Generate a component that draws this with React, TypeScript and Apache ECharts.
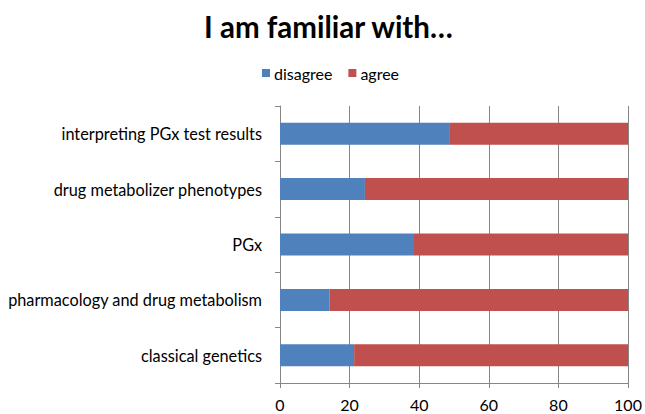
import React, { useEffect, useRef } from "react";
import * as echarts from "echarts";

const categories = [
  "classical genetics",
  "pharmacology and drug metabolism",
  "PGx",
  "drug metabolizer phenotypes",
  "interpreting PGx test results",
];
const disagree = [21.3, 14.2, 38.5, 24.4, 48.6];
const agree = [78.7, 85.8, 61.5, 75.6, 51.4];
const xTicks = [0, 20, 40, 60, 80, 100];

const FONT = "Lato, 'Open Sans', sans-serif";

export default function App() {
  const ref = useRef<HTMLDivElement>(null);
  useEffect(() => {
    if (!ref.current) return;
    const chart = echarts.init(ref.current, null, { renderer: "svg" });
    chart.setOption({
      animation: false,
      backgroundColor: "#ffffff",
      title: {
        text: "I am familiar with…",
        left: 199,
        top: 6,
        textStyle: { fontFamily: FONT, fontWeight: "bold", fontSize: 29.5, color: "#000" },
      },
      legend: {
        top: 60,
        left: 257,
        itemWidth: 8,
        itemHeight: 8,
        itemGap: 16,
        icon: "rect",
        textStyle: { fontFamily: FONT, fontSize: 16, color: "#000", padding: [0, 0, 0, -1] },
        data: ["disagree", "agree"],
      },
      grid: { left: 280, right: 17, top: 106, bottom: 31, containLabel: false },
      xAxis: {
        type: "value",
        min: xTicks[0],
        max: xTicks[xTicks.length - 1],
        interval: 20,
        axisLine: { show: true, lineStyle: { color: "#868686" } },
        axisTick: { show: true, length: 5, lineStyle: { color: "#868686" } },
        splitLine: { show: true, lineStyle: { color: "#868686", width: 1 } },
        axisLabel: { fontFamily: FONT, fontSize: 16, color: "#000", margin: 13 },
      },
      yAxis: {
        type: "category",
        data: categories,
        axisLine: { show: true, lineStyle: { color: "#868686" } },
        axisTick: { show: true, length: 5, lineStyle: { color: "#868686" } },
        axisLabel: { fontFamily: FONT, fontSize: 16.3, color: "#000", margin: 18 },
      },
      series: [
        {
          name: "disagree",
          type: "bar",
          stack: "total",
          barWidth: 22,
          data: disagree,
          itemStyle: { color: "#4F81BD" },
        },
        {
          name: "agree",
          type: "bar",
          stack: "total",
          barWidth: 22,
          data: agree,
          itemStyle: { color: "#C0504D" },
        },
      ],
    });
    return () => chart.dispose();
  }, []);
  return (
    <div
      ref={ref}
      style={{ position: "fixed", left: 0, top: 0, width: 645, height: 414 }}
    />
  );
}
